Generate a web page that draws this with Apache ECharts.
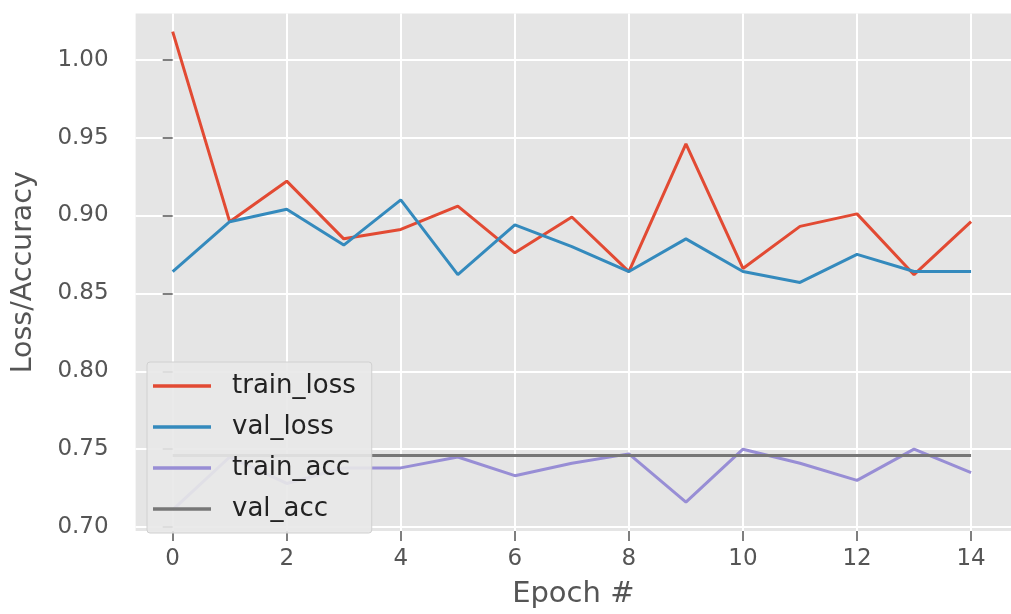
<!DOCTYPE html>
<html>
<head>
<meta charset="utf-8">
<script src="https://cdn.jsdelivr.net/npm/echarts@6/dist/echarts.min.js"></script>
<style>
html,body{margin:0;padding:0;background:#fff;}
#c{width:1011px;height:614px;}
</style>
</head>
<body>
<div id="c"></div>
<script>
const epochs = [0,1,2,3,4,5,6,7,8,9,10,11,12,13,14];
const trainLoss = [1.018,0.896,0.922,0.885,0.891,0.906,0.876,0.899,0.864,0.946,0.866,0.893,0.901,0.862,0.896];
const valLoss   = [0.864,0.896,0.904,0.881,0.910,0.862,0.894,0.880,0.864,0.885,0.864,0.857,0.875,0.864,0.864];
const trainAcc  = [0.711,0.745,0.728,0.738,0.738,0.745,0.733,0.741,0.747,0.716,0.750,0.741,0.730,0.750,0.735];
const valAcc    = [0.746,0.746,0.746,0.746,0.746,0.746,0.746,0.746,0.746,0.746,0.746,0.746,0.746,0.746,0.746];
const xTicks = [0,2,4,6,8,10,12,14];
const yTicks = [0.70,0.75,0.80,0.85,0.90,0.95,1.00];

const FONT = 'DejaVu Sans';
function pairs(arr){ return epochs.map((e,i)=>[e,arr[i]]); }
function mk(name, arr, color){
  return {
    name: name, type: 'line', data: pairs(arr), symbol: 'none', showSymbol: false,
    lineStyle: {color: color, width: 3}, itemStyle: {color: color},
    emphasis: {disabled: true}, animation: false, z: 2
  };
}
const chart = echarts.init(document.getElementById('c'), null, {renderer:'canvas'});
chart.setOption({
  backgroundColor: '#ffffff',
  animation: false,
  grid: {left: 135.6, top: 13.5, width: 889.3, bottom: 79, show: true,
         backgroundColor: '#e5e5e5', borderWidth: 0, containLabel: false},
  xAxis: {
    type: 'value', min: -0.65, max: 14.7,
    name: 'Epoch #', nameLocation: 'middle', nameGap: 49,
    nameTextStyle: {fontFamily: FONT, fontSize: 29, color: '#555555'},
    axisLine: {show: false},
    axisTick: {show: true, length: 10, lineStyle: {color: '#555555', width: 1.5}, customValues: xTicks},
    axisLabel: {fontFamily: FONT, fontSize: 23, color: '#555555', margin: 17, customValues: xTicks,
                formatter: v => String(v)},
    splitLine: {show: true, lineStyle: {color: '#ffffff', width: 2}}
  },
  yAxis: {
    type: 'value', min: 0.6975, max: 1.0296,
    name: 'Loss/Accuracy', nameLocation: 'middle', nameGap: 98, nameRotate: 90,
    nameTextStyle: {fontFamily: FONT, fontSize: 28.5, color: '#555555'},
    axisLine: {show: false},
    axisTick: {show: true, length: 10, lineStyle: {color: '#555555', width: 1.5}, customValues: yTicks},
    axisLabel: {fontFamily: FONT, fontSize: 23, color: '#555555', margin: 27, customValues: yTicks,
                formatter: v => v.toFixed(2)},
    splitLine: {show: true, lineStyle: {color: '#ffffff', width: 2}}
  },
  legend: {
    orient: 'vertical', left: 147, top: 362,
    data: ['train_loss','val_loss','train_acc','val_acc'],
    icon: 'rect',
    itemWidth: 58, itemHeight: 3.5, itemGap: 15,
    padding: [11, 16, 11, 6],
    backgroundColor: 'rgba(232,232,232,0.9)',
    borderColor: '#d0d0d0', borderWidth: 1, borderRadius: 3,
    textStyle: {fontFamily: FONT, fontSize: 26, color: '#222222', lineHeight: 24, padding: [0,0,0,16]},
    selectedMode: false, z: 10
  },
  series: [
    mk('train_loss', trainLoss, '#E24A33'),
    mk('val_loss', valLoss, '#348ABD'),
    mk('train_acc', trainAcc, '#988ED5'),
    mk('val_acc', valAcc, '#777777')
  ]
});
</script>
</body>
</html>
